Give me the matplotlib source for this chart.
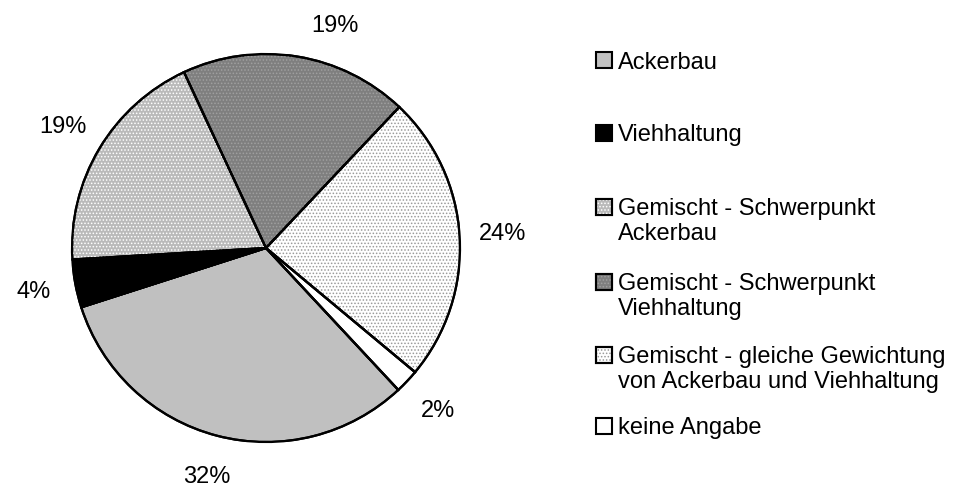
import matplotlib
matplotlib.use('Agg')
import numpy as np
import matplotlib.pyplot as plt
from matplotlib.patches import Rectangle, Wedge

# ---- data ----
categories = ['Ackerbau',
              'Viehhaltung',
              'Gemischt - Schwerpunkt\nAckerbau',
              'Gemischt - Schwerpunkt\nViehhaltung',
              'Gemischt - gleiche Gewichtung\nvon Ackerbau und Viehhaltung',
              'keine Angabe']
values = [32, 4, 19, 19, 24, 2]

# ---- style ----
face_colors = ['#c0c0c0', '#000000', '#bababa', '#7f7f7f', '#ffffff', '#ffffff']
hatch_colors = [None, None, '#ffffff', '#a0a0a0', '#9a9a9a', None]
hatches = [None, None, '.....', '.....', '.....', None]
plt.rcParams['hatch.linewidth'] = 0.7
FONT = 'Liberation Sans'
FS = 17

W, H = 955, 492
fig = plt.figure(figsize=(W / 100, H / 100), dpi=100)
cx, cy, r = 266, 248, 194
ax = fig.add_axes([(cx - r) / W, 1 - (cy + r) / H, 2 * r / W, 2 * r / H])

wedges, texts, autotexts = ax.pie(
    values, colors=face_colors, startangle=-47, counterclock=False,
    autopct='%1.0f%%', pctdistance=1.22,
    wedgeprops=dict(edgecolor='black', linewidth=1.6),
    textprops=dict(fontsize=FS, family=FONT, color='black'))

for w, hc, h in zip(wedges, hatch_colors, hatches):
    if h:
        ax.add_patch(Wedge(w.center, w.r, w.theta1, w.theta2, facecolor='none',
                           edgecolor=hc, hatch=h, linewidth=0, zorder=w.zorder + 0.1))
    ax.add_patch(Wedge(w.center, w.r, w.theta1, w.theta2, fill=False,
                       edgecolor='black', linewidth=1.6, zorder=w.zorder + 0.2))

# shift top label slightly (layout tweak)
t = autotexts[3]
w = wedges[3]
ang = np.deg2rad((w.theta1 + w.theta2) / 2 - 8)
t.set_position((1.2 * np.cos(ang), 1.2 * np.sin(ang)))

ax.set_xlim(-1, 1)
ax.set_ylim(-1, 1)

# ---- legend (manual) ----
sq_x, sq_size, txt_x = 596, 16, 618
centers = [60.5, 133, 207, 281.5, 355, 425.5]
line_step = 24.5
for lab, fc, hc, h, yc in zip(categories, face_colors, hatch_colors, hatches, centers):
    box = ((sq_x) / W, 1 - (yc + sq_size / 2) / H)
    fig.patches.append(Rectangle(box, sq_size / W, sq_size / H, transform=fig.transFigure,
                                 facecolor=fc, edgecolor='black', linewidth=1.5))
    if h:
        fig.patches.append(Rectangle(box, sq_size / W, sq_size / H, transform=fig.transFigure,
                                     facecolor='none', edgecolor=hc, hatch=h, linewidth=0))
        fig.patches.append(Rectangle(box, sq_size / W, sq_size / H, transform=fig.transFigure,
                                     fill=False, edgecolor='black', linewidth=1.5))
    for i, line in enumerate(lab.split('\n')):
        fig.text(txt_x / W, 1 - (yc + 8.5 + i * line_step) / H, line,
                 fontsize=FS, family=FONT, va='baseline', ha='left')

fig.savefig('out.png', dpi=100)
